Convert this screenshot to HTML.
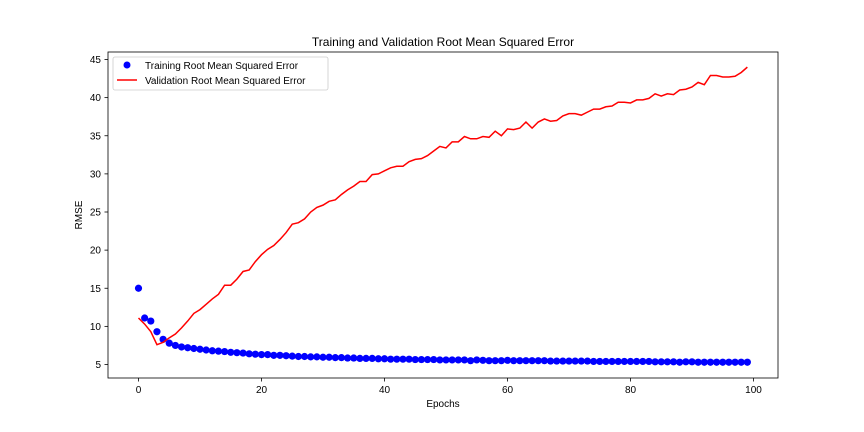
<!DOCTYPE html>
<html><head><meta charset="utf-8"><style>
body{margin:0;background:#fff;}
svg{display:block;font-family:"Liberation Sans","DejaVu Sans",sans-serif;}
</style></head><body>
<svg id="chart" width="864" height="432">
<rect width="864" height="432" fill="#fff"/>
<text x="443" y="46" text-anchor="middle" font-size="12">Training and Validation Root Mean Squared Error</text>
<g id="axes"></g>
<g id="marks"></g>
<rect x="108" y="52" width="670" height="326" fill="none" stroke="#000" stroke-width="0.8"/>
<text x="443" y="407" text-anchor="middle" font-size="10">Epochs</text>
<text transform="translate(82,215) rotate(-90)" text-anchor="middle" font-size="10">RMSE</text>
<g>
<rect x="113" y="57" width="215" height="33" rx="2" fill="#fff" stroke="#ccc" stroke-width="0.8"/>
<circle cx="127" cy="65" r="3.5" fill="#0000ff"/>
<text x="145" y="69" font-size="10">Training Root Mean Squared Error</text>
<line x1="117" y1="80" x2="137" y2="80" stroke="#ff0000" stroke-width="1.5"/>
<text x="145" y="84" font-size="10">Validation Root Mean Squared Error</text>
</g>
</svg>
<script>
const xTicks=[0,20,40,60,80,100];
const yTicks=[5,10,15,20,25,30,35,40,45];
const trainRmse=[15,11.1,10.7,9.3,8.3,7.8,7.5,7.3,7.2,7.1,7.0,6.9,6.8,6.75,6.7,6.6,6.55,6.5,6.4,6.35,6.3,6.3,6.2,6.2,6.15,6.1,6.05,6.05,6.0,6.0,5.95,5.95,5.9,5.9,5.85,5.85,5.8,5.8,5.8,5.75,5.75,5.7,5.7,5.7,5.7,5.65,5.65,5.65,5.65,5.6,5.6,5.6,5.6,5.6,5.5,5.6,5.55,5.5,5.5,5.5,5.55,5.5,5.5,5.5,5.5,5.5,5.5,5.45,5.45,5.45,5.45,5.45,5.45,5.45,5.4,5.4,5.4,5.4,5.4,5.4,5.4,5.4,5.4,5.4,5.35,5.35,5.35,5.35,5.3,5.35,5.35,5.3,5.3,5.3,5.3,5.3,5.3,5.3,5.3,5.3];
const valRmse=[11.1,10.3,9.3,7.6,7.9,8.5,9.0,9.8,10.7,11.7,12.2,12.9,13.6,14.2,15.4,15.4,16.2,17.2,17.4,18.5,19.4,20.1,20.6,21.4,22.3,23.4,23.6,24.1,25.0,25.6,25.9,26.4,26.6,27.3,27.9,28.4,29.0,29.0,29.9,30.0,30.4,30.8,31.0,31.0,31.6,31.9,32.0,32.4,33.0,33.6,33.4,34.2,34.2,34.9,34.6,34.6,34.9,34.8,35.6,35.0,35.9,35.8,36.0,36.8,36.0,36.8,37.2,36.9,37.0,37.6,37.9,37.9,37.7,38.1,38.5,38.5,38.8,38.9,39.4,39.4,39.3,39.7,39.7,39.9,40.5,40.2,40.5,40.4,41.0,41.1,41.4,42.0,41.7,42.9,42.9,42.7,42.7,42.8,43.3,44.0];
const NS="http://www.w3.org/2000/svg";
function xs(v){return 138.5+v*6.15;}
function ys(v){return 364.5-(v-5)*7.625;}
const axes=document.getElementById('axes'),marks=document.getElementById('marks');
function mk(t,a,p){const e=document.createElementNS(NS,t);for(const k in a)e.setAttribute(k,a[k]);p.appendChild(e);return e;}
xTicks.forEach(t=>{
 const l=mk('line',{x1:xs(t),x2:xs(t),y1:378,y2:381.5,stroke:'#000','stroke-width':0.8},axes);
 
 
 const tx=mk('text',{x:xs(t),y:393,'text-anchor':'middle','font-size':10},axes);tx.textContent=t;
 
 
});
yTicks.forEach(t=>{
 const l=mk('line',{x1:104.5,x2:108,y1:ys(t),y2:ys(t),stroke:'#000','stroke-width':0.8},axes);
 
 
 const tx=mk('text',{x:101,y:ys(t)+3.5,'text-anchor':'end','font-size':10},axes);tx.textContent=t;
 
 
});
trainRmse.forEach((v,i)=>{
 const c=mk('circle',{cx:xs(i),cy:ys(v),r:3.6,fill:'#0000ff'},marks);
 
 
});
const pl=mk('polyline',{points:valRmse.map((v,i)=>xs(i)+','+ys(v)).join(' '),fill:'none',stroke:'#ff0000','stroke-width':1.5},marks);


</script>
</body></html>
